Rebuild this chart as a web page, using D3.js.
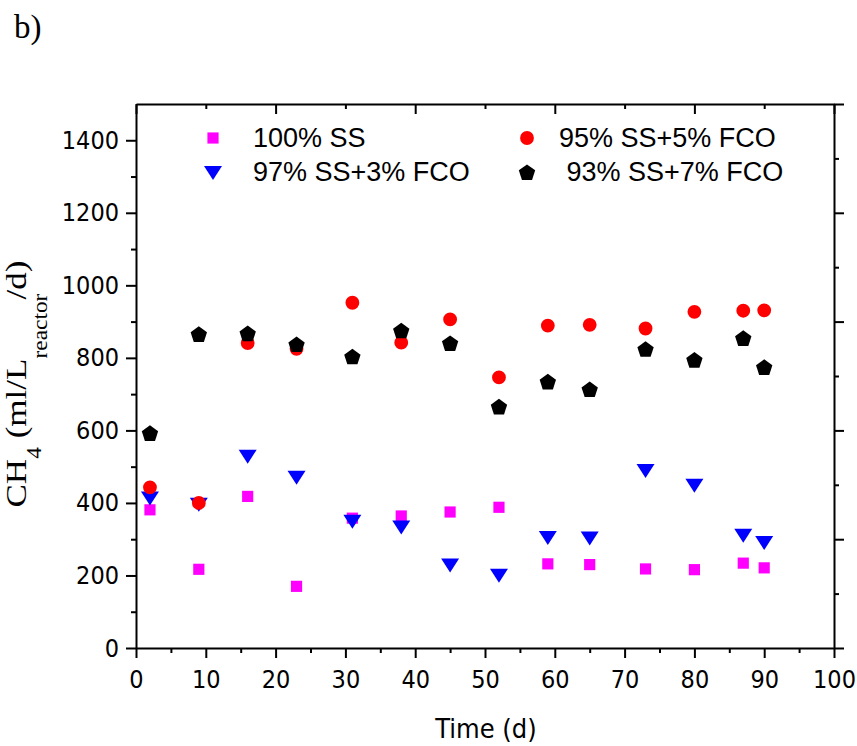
<!DOCTYPE html>
<html><head><meta charset="utf-8">
<script src="https://cdn.jsdelivr.net/npm/d3@7"></script>
<style>
body{margin:0;background:#fff;}
svg{display:block;}
.tick text{font-family:"DejaVu Sans Condensed","DejaVu Sans",sans-serif;font-stretch:condensed;font-size:25px;fill:#000;}
</style></head>
<body><svg id="c" width="857" height="746"></svg>
<script>
const days = [2, 9, 16, 23, 31, 38, 45, 52, 59, 65, 73, 80, 87, 90];
const ss100 = [381, 217, 418, 170, 358, 364, 375, 388, 232, 230, 218, 216, 234, 221];
const ss97 = [415, 398, 530, 472, 351, 335, 230, 202, 306, 305, 491, 450, 312, 292];
const ss95 = [443, 400, 841, 825, 952, 842, 906, 746, 889, 891, 881, 927, 930, 931];
const ss93 = [593, 866, 868, 838, 804, 876, 841, 666, 735, 714, 825, 795, 855, 775];
const seriesNames = ["100% SS", "97% SS+3% FCO", "95% SS+5% FCO", " 93% SS+7% FCO"];
const xTicks = [0,10,20,30,40,50,60,70,80,90,100];
const yTicks = [0,200,400,600,800,1000,1200,1400];
const topMajor = [0,20,40,60,80,100];
const topMinor = [10,30,50,70,90];
const rightMajor = [0,300,600,900,1200,1500];
const rightMinor = [150,450,750,1050,1350];

const svg = d3.select("#c");
const x = d3.scaleLinear().domain([0,100]).range([136,834]);
const y = d3.scaleLinear().domain([0,1500]).range([648,104]);

const xMinor = d3.range(5,100,10);
const yMinor = d3.range(100,1500,200);

function styleAxis(g){
  g.selectAll(".domain").attr("stroke","#000").attr("stroke-width",2);
  g.selectAll(".tick line").attr("stroke","#000").attr("stroke-width",2);
}
function minorAxis(axis, vals, size){
  return g=>g.call(axis.tickValues(vals).tickSize(size).tickFormat("").tickSizeOuter(0))
    .call(styleAxis).call(g=>g.select(".domain").remove());
}
// bottom
svg.append("g").attr("transform","translate(0,648)")
  .call(d3.axisBottom(x).tickValues(xTicks).tickSize(10).tickPadding(12).tickSizeOuter(0).tickFormat(d3.format("d")))
  .call(styleAxis);
svg.append("g").attr("transform","translate(0,648)").call(minorAxis(d3.axisBottom(x), xMinor, 5));
// top
svg.append("g").attr("transform","translate(0,104)")
  .call(d3.axisBottom(x).tickValues(topMajor).tickSize(10).tickFormat("").tickSizeOuter(0))
  .call(styleAxis);
svg.append("g").attr("transform","translate(0,104)").call(minorAxis(d3.axisBottom(x), topMinor, 5));
// left
svg.append("g").attr("transform","translate(136,0)")
  .call(d3.axisLeft(y).tickValues(yTicks).tickSize(10).tickPadding(7).tickSizeOuter(0).tickFormat(d3.format("d")))
  .call(styleAxis);
svg.append("g").attr("transform","translate(136,0)").call(minorAxis(d3.axisLeft(y), yMinor, 5));
// right
svg.append("g").attr("transform","translate(834,0)")
  .call(d3.axisLeft(y).tickValues(rightMajor).tickSize(-10).tickFormat("").tickSizeOuter(0))
  .call(styleAxis);
svg.append("g").attr("transform","translate(834,0)").call(minorAxis(d3.axisLeft(y), rightMinor, -5));

// markers
const sq = d3.symbol().type(d3.symbolSquare).size(125)();
const circ = d3.symbol().type(d3.symbolCircle).size(150)();
const tri = "M-9,-6L9,-6L0,8Z";
function pent(r){
  const pts=[];
  for(let i=0;i<5;i++){const a=-Math.PI/2+i*2*Math.PI/5;pts.push([r*Math.cos(a),r*Math.sin(a)+1]);}
  return "M"+pts.map(p=>p.join(",")).join("L")+"Z";
}
const pen = pent(8.6);
const series = [
  {vals:ss100, path:sq, color:"#ff00ff"},
  {vals:ss97, path:tri, color:"#0000ff"},
  {vals:ss95, path:circ, color:"#ff0000"},
  {vals:ss93, path:pen, color:"#000000"}
];
series.forEach(s=>{
  svg.append("g").selectAll("path").data(days.map((d,i)=>[d,s.vals[i]])).join("path")
    .attr("d",s.path).attr("fill",s.color)
    .attr("transform",d=>`translate(${x(d[0])},${y(d[1])})`);
});

// legend
const leg = [
  {mx:213,my:138,tx:253,ty:147,path:sq,color:"#ff00ff",name:seriesNames[0]},
  {mx:213,my:172,tx:253,ty:181,path:tri,color:"#0000ff",name:seriesNames[1]},
  {mx:527,my:138,tx:559,ty:147,path:circ,color:"#ff0000",name:seriesNames[2]},
  {mx:527,my:172,tx:559,ty:181,path:pen,color:"#000000",name:seriesNames[3]}
];
leg.forEach(l=>{
  svg.append("path").attr("d",l.path).attr("fill",l.color).attr("transform",`translate(${l.mx},${l.my})`);
  svg.append("text").attr("x",l.tx).attr("y",l.ty).attr("font-family","'Liberation Sans',Arial,sans-serif")
    .attr("font-size",27).style("white-space","pre").text(l.name);
});

// axis titles
svg.append("text").attr("x",486).attr("y",738).attr("text-anchor","middle")
  .attr("font-family","'DejaVu Sans Condensed','DejaVu Sans',sans-serif").style("font-stretch","condensed")
  .attr("font-size",27).text("Time (d)");

const yt = svg.append("text").attr("transform","translate(26,384) rotate(-90) scale(1.17,1)").attr("text-anchor","middle")
  .attr("font-family","'Liberation Serif','Times New Roman',serif").attr("font-size",30);
yt.append("tspan").text("CH");
yt.append("tspan").attr("font-size",20).attr("dy",15).text("4");
yt.append("tspan").attr("dy",-15).text(" (ml/L");
yt.append("tspan").attr("font-size",20).attr("dy",21).text("reactor");
yt.append("tspan").attr("dy",-21).attr("dx",-5).text("/d)");

svg.append("text").attr("x",14).attr("y",38).attr("font-family","'Liberation Serif','Times New Roman',serif")
  .attr("font-size",33).text("b)");
</script></body></html>
